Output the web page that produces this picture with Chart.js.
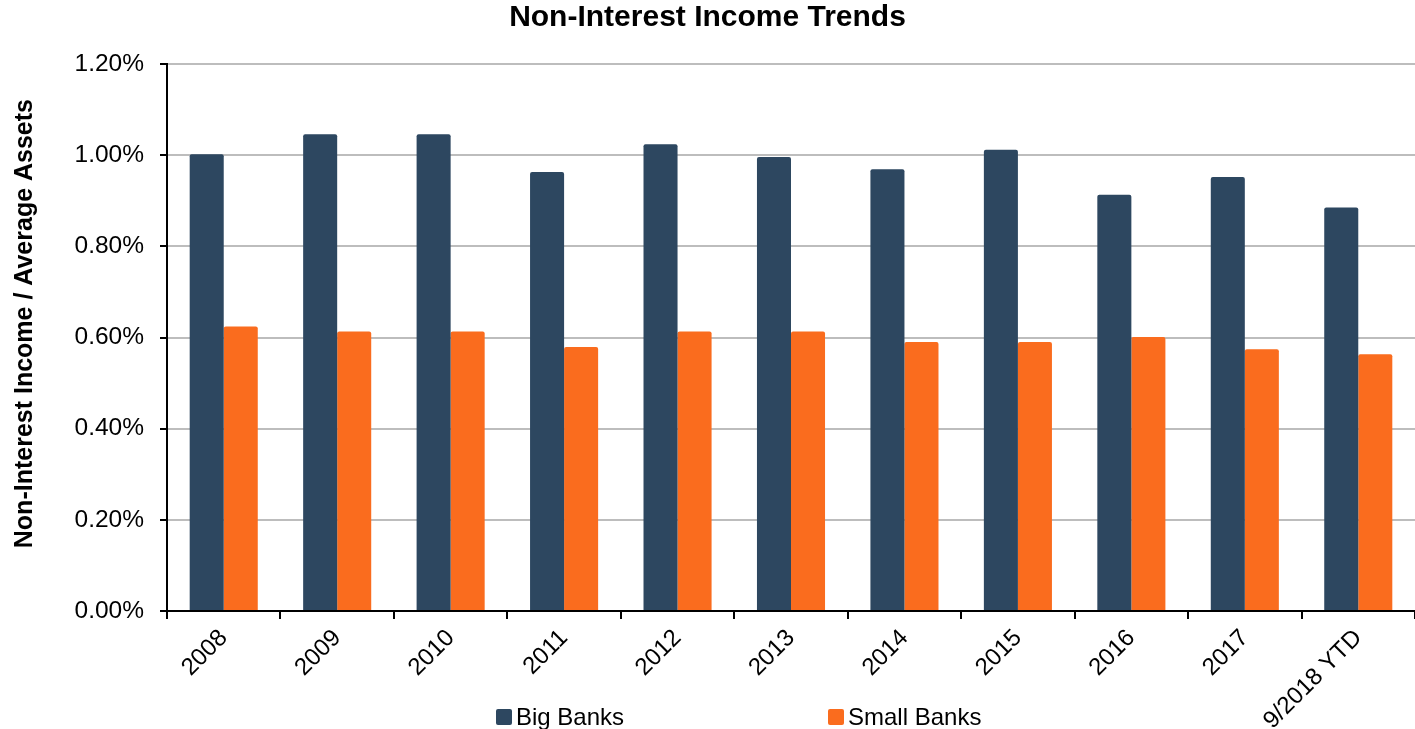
<!DOCTYPE html>
<html>
<head>
<meta charset="utf-8">
<script src="https://cdn.jsdelivr.net/npm/chart.js@4.4.0/dist/chart.umd.min.js"></script>
<style>
  html, body { margin: 0; padding: 0; background: #fff; }
</style>
</head>
<body>
<canvas id="canvas" width="1415" height="729"></canvas>
<script>
// values, in percent of average assets
let labels = ['2008', '2009', '2010', '2011', '2012', '2013', '2014', '2015', '2016', '2017', '9/2018 YTD'];
let bigBanks   = [1.002, 1.046, 1.046, 0.963, 1.024, 0.996, 0.969, 1.012, 0.913, 0.952, 0.885];
let smallBanks = [0.624, 0.613, 0.613, 0.579, 0.613, 0.613, 0.590, 0.590, 0.601, 0.574, 0.563];
let title = 'Non-Interest Income Trends';
// leading spaces nudge the rotated title up a little, like the original
let yTitle = '    Non-Interest Income / Average Assets';

let font = '"Liberation Sans", Arial, sans-serif';

// legend sits under the slanted labels, so it is drawn here instead
let bottomLegend = {
  id: 'bottomLegend',
  afterDraw(chart) {
    let ctx = chart.ctx;
    let spots = [496, 828];
    ctx.save();
    ctx.font = '24px ' + font;
    ctx.textBaseline = 'middle';
    ctx.textAlign = 'left';
    chart.data.datasets.forEach((ds, i) => {
      let x = spots[i];
      ctx.fillStyle = ds.backgroundColor;
      ctx.beginPath();
      ctx.roundRect(x, 709, 16, 16, 2);
      ctx.fill();
      ctx.fillStyle = '#000';
      ctx.fillText(ds.label, x + 20, 718);
    });
    ctx.restore();
  }
};

let options = {
  type: 'bar',
  data: {
    labels: labels,
    datasets: [
      {
        label: 'Big Banks',
        data: bigBanks,
        backgroundColor: '#2d4760',
        borderRadius: 2,
        borderSkipped: 'bottom',
        categoryPercentage: 0.6,
        barPercentage: 1.0
      },
      {
        label: 'Small Banks',
        data: smallBanks,
        backgroundColor: '#fa6c1e',
        borderRadius: 2,
        borderSkipped: 'bottom',
        categoryPercentage: 0.6,
        barPercentage: 1.0
      }
    ]
  },
  options: {
    responsive: false,
    animation: false,
    devicePixelRatio: 1,
    layout: { padding: 0 },
    plugins: {
      legend: { display: false },
      tooltip: { enabled: false },
      title: {
        display: true,
        text: title,
        color: '#000',
        font: { family: font, size: 30, weight: 'bold' },
        padding: { top: 0, bottom: 28 }
      }
    },
    scales: {
      x: {
        afterFit: (scale) => { scale.height = 118; },
        grid: {
          display: true,
          drawOnChartArea: false,
          offset: true,
          tickLength: 8,
          tickColor: '#000',
          lineWidth: 2
        },
        border: { color: '#000', width: 2 },
        ticks: {
          color: '#000',
          font: { family: font, size: 24 },
          minRotation: 45,
          maxRotation: 45,
          autoSkip: false,
          padding: 5
        }
      },
      y: {
        min: 0,
        max: 1.2,
        afterFit: (scale) => { scale.width = 167; },
        grid: {
          color: '#bdbdbd',
          lineWidth: 2,
          tickLength: 7,
          tickColor: '#000'
        },
        border: { color: '#000', width: 2 },
        ticks: {
          stepSize: 0.2,
          color: '#000',
          padding: 16,
          font: { family: font, size: 24.5 },
          callback: (v) => v.toFixed(2) + '%'
        },
        title: {
          display: true,
          text: yTitle,
          color: '#000',
          font: { family: font, size: 25, weight: 'bold' },
          padding: { top: 10, bottom: 0 }
        }
      }
    }
  },
  plugins: [bottomLegend]
};

let chart = new Chart(document.getElementById('canvas'), options);
</script>
</body>
</html>
